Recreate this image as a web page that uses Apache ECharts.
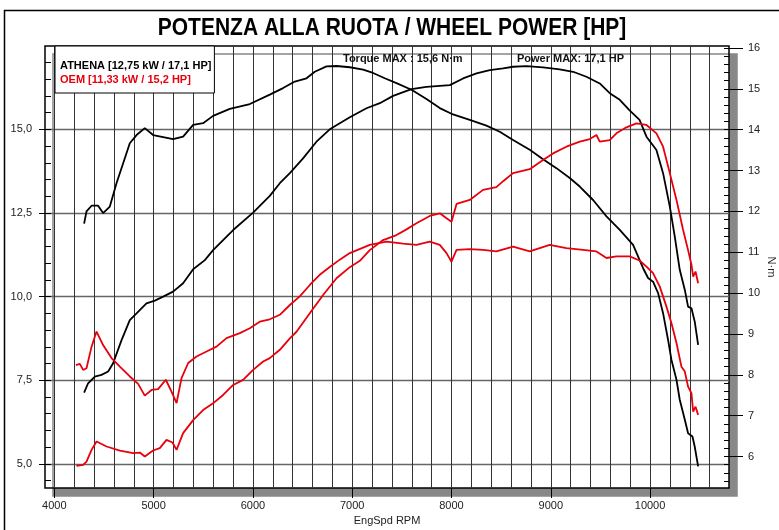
<!DOCTYPE html>
<html>
<head>
<meta charset="utf-8">
<title>Potenza alla ruota</title>
<script src="https://cdn.jsdelivr.net/npm/echarts@6/dist/echarts.min.js"></script>
<style>
html, body { margin: 0; padding: 0; background: #fff; }
#chart { width: 779px; height: 530px; }
</style>
</head>
<body>
<div id="chart"></div>
<script>
// tick labels
const rpmTicks = [4000, 5000, 6000, 7000, 8000, 9000, 10000]
const hpTicks = [5, 7.5, 10, 12.5, 15]
const nmTicks = [6, 7, 8, 9, 10, 11, 12, 13, 14, 15, 16]

// ATHENA - power [HP] (left axis)
const athPowerRpm = [4300, 4340, 4408, 4475, 4542, 4592, 4677, 4760, 4828, 4928, 5012, 5096, 5196, 5297, 5398, 5516, 5599, 5801, 6002, 6170, 6271, 6372, 6505, 6640, 6774, 6976, 7144, 7278, 7412, 7597, 7748, 7983, 8117, 8252, 8386, 8520, 8620, 8755, 8922, 9090, 9225, 9359, 9493, 9594, 9695, 9789, 9894, 9964, 10064, 10131, 10199, 10249, 10299, 10350, 10383, 10417, 10450, 10484]
const athPowerHp = [7.13, 7.41, 7.61, 7.66, 7.76, 8.01, 8.70, 9.30, 9.50, 9.80, 9.88, 10.0, 10.15, 10.40, 10.82, 11.09, 11.39, 11.99, 12.51, 13.01, 13.39, 13.69, 14.13, 14.63, 15.0, 15.36, 15.63, 15.78, 16.0, 16.20, 16.27, 16.32, 16.52, 16.67, 16.77, 16.82, 16.87, 16.89, 16.85, 16.79, 16.72, 16.57, 16.37, 16.08, 15.88, 15.58, 15.28, 14.78, 14.38, 13.69, 12.69, 11.79, 10.80, 10.20, 9.70, 9.65, 9.25, 8.56]

// ATHENA - torque [N·m] (right axis)
const athTorqueRpm = [4300, 4324, 4375, 4441, 4491, 4559, 4626, 4710, 4760, 4828, 4911, 4995, 5096, 5196, 5297, 5398, 5498, 5599, 5767, 5969, 6170, 6304, 6422, 6540, 6623, 6741, 6842, 6976, 7110, 7210, 7328, 7446, 7597, 7748, 7882, 8000, 8184, 8352, 8486, 8620, 8788, 8922, 9057, 9191, 9292, 9426, 9561, 9695, 9829, 9930, 9980, 10030, 10081, 10131, 10181, 10215, 10266, 10299, 10350, 10383, 10427, 10450, 10484]
const athTorqueNm = [11.70, 12.0, 12.14, 12.14, 11.96, 12.12, 12.69, 13.30, 13.67, 13.87, 14.04, 13.87, 13.82, 13.77, 13.83, 14.12, 14.16, 14.34, 14.51, 14.63, 14.86, 15.02, 15.18, 15.26, 15.42, 15.55, 15.56, 15.53, 15.47, 15.39, 15.26, 15.14, 14.98, 14.75, 14.53, 14.39, 14.24, 14.10, 13.95, 13.75, 13.51, 13.28, 13.06, 12.82, 12.61, 12.28, 11.88, 11.55, 11.18, 10.61, 10.37, 10.28, 10.0, 9.51, 8.86, 8.37, 7.88, 7.39, 6.90, 6.57, 6.49, 6.24, 5.76]

// OEM - power [HP] (left axis)
const oemPowerRpm = [4223, 4290, 4324, 4375, 4425, 4526, 4660, 4794, 4861, 4911, 4995, 5062, 5130, 5190, 5231, 5297, 5398, 5498, 5599, 5700, 5801, 5901, 6002, 6103, 6170, 6271, 6372, 6439, 6573, 6707, 6842, 6976, 7077, 7177, 7311, 7446, 7547, 7647, 7781, 7882, 7950, 8000, 8051, 8184, 8318, 8452, 8520, 8620, 8788, 8922, 9023, 9157, 9292, 9393, 9460, 9493, 9594, 9661, 9762, 9862, 9964, 10064, 10131, 10199, 10266, 10333, 10383, 10417, 10434, 10458, 10484]
const oemPowerHp = [4.94, 4.97, 5.07, 5.42, 5.67, 5.52, 5.40, 5.32, 5.34, 5.22, 5.40, 5.47, 5.72, 5.64, 5.42, 5.92, 6.31, 6.61, 6.81, 7.06, 7.36, 7.51, 7.81, 8.06, 8.16, 8.41, 8.75, 8.95, 9.50, 10.05, 10.55, 10.88, 11.07, 11.39, 11.69, 11.84, 12.01, 12.19, 12.41, 12.49, 12.34, 12.24, 12.77, 12.89, 13.19, 13.27, 13.45, 13.69, 13.81, 14.08, 14.28, 14.48, 14.63, 14.71, 14.83, 14.63, 14.68, 14.88, 15.06, 15.18, 15.13, 14.88, 14.48, 13.69, 12.89, 11.99, 11.39, 10.95, 10.60, 10.75, 10.40]

// OEM - torque [N·m] (right axis)
const oemTorqueRpm = [4217, 4257, 4290, 4324, 4375, 4425, 4491, 4576, 4660, 4760, 4844, 4911, 4979, 5045, 5123, 5180, 5231, 5281, 5348, 5432, 5533, 5633, 5734, 5868, 5969, 6069, 6170, 6271, 6372, 6472, 6573, 6673, 6774, 6875, 6976, 7177, 7345, 7513, 7647, 7781, 7882, 7950, 8000, 8051, 8184, 8318, 8452, 8620, 8788, 8989, 9157, 9325, 9460, 9561, 9661, 9795, 9894, 9964, 10030, 10098, 10165, 10215, 10266, 10316, 10350, 10383, 10417, 10434, 10458, 10484]
const oemTorqueNm = [8.24, 8.27, 8.12, 8.16, 8.69, 9.06, 8.73, 8.41, 8.20, 7.96, 7.78, 7.49, 7.63, 7.65, 7.88, 7.59, 7.31, 7.92, 8.29, 8.45, 8.57, 8.69, 8.90, 9.02, 9.14, 9.30, 9.36, 9.47, 9.71, 9.92, 10.20, 10.45, 10.64, 10.82, 10.98, 11.18, 11.26, 11.21, 11.18, 11.26, 11.18, 10.98, 10.77, 11.06, 11.08, 11.06, 11.02, 11.14, 11.02, 11.18, 11.10, 11.06, 11.02, 10.86, 10.90, 10.90, 10.80, 10.65, 10.49, 10.16, 9.67, 9.27, 8.78, 8.20, 8.08, 7.71, 7.55, 7.10, 7.22, 7.02]

const athName = 'ATHENA [12,75 kW / 17,1 HP]'
const oemName = 'OEM [11,33 kW / 15,2 HP]'
const red = '#e8000c'

// grid lines / minor ticks
const rpmGrid = []
for (let v = 4000; v <= 10600; v += 200) rpmGrid.push(v)
const hpMinor = []
for (let i = 9; i <= 34; i++) hpMinor.push(i * 0.5)
const nmMinor = []
for (let i = 27; i <= 80; i++) nmMinor.push(Math.round(i * 20) / 100)

const pairs = (xs, ys) => xs.map((x, i) => [x, ys[i]])

const chart = echarts.init(document.getElementById('chart'))

const xRange = { min: 3906, max: 10795 }
const hpRange = { min: 4.28, max: 17.49 }
const nmRange = { min: 5.23, max: 16.05 }
const labelFont = { fontFamily: 'Liberation Sans', fontSize: 11, color: '#222' }

const option = {
    backgroundColor: '#fff',
    animation: false,
    graphic: [
        {
            type: 'rect',
            z: 100,
            shape: { x: 4.5, y: 10.5, width: 820, height: 600 },
            style: { fill: 'none', stroke: '#000', lineWidth: 1.5 }
        },
        {
            type: 'text',
            z: 100,
            x: 392,
            y: 28,
            scaleX: 0.875,
            style: {
                text: 'POTENZA ALLA RUOTA / WHEEL POWER [HP]',
                font: 'bold 24px "Liberation Sans"',
                fill: '#000',
                align: 'center',
                verticalAlign: 'middle'
            }
        },
        {
            type: 'text',
            z: 100,
            x: 343,
            y: 59,
            style: {
                text: 'Torque MAX : 15,6 N·m',
                font: 'bold 11px "Liberation Sans"',
                fill: '#111',
                verticalAlign: 'middle'
            }
        },
        {
            type: 'text',
            z: 100,
            x: 517,
            y: 59,
            style: {
                text: 'Power MAX: 17,1 HP',
                font: 'bold 11px "Liberation Sans"',
                fill: '#111',
                verticalAlign: 'middle'
            }
        }
    ],
    legend: {
        left: 55,
        top: 46,
        orient: 'vertical',
        icon: 'none',
        itemWidth: 0,
        itemHeight: 10,
        itemGap: 3,
        selectedMode: false,
        backgroundColor: '#fff',
        borderColor: '#000',
        borderWidth: 1,
        padding: [14, 3, 8, 0],
        textStyle: { fontFamily: 'Liberation Sans', fontSize: 11, fontWeight: 'bold' },
        data: [
            { name: athName, textStyle: { color: '#000' } },
            { name: oemName, textStyle: { color: red } }
        ]
    },
    grid: {
        left: 45,
        right: 50,
        top: 46,
        bottom: 42,
        outerBoundsMode: 'none',
        show: true,
        backgroundColor: '#fff',
        borderColor: '#000',
        borderWidth: 1.5,
        shadowColor: '#888',
        shadowBlur: 0,
        shadowOffsetX: 8,
        shadowOffsetY: 8
    },
    xAxis: [
        {
            type: 'value',
            position: 'bottom',
            ...xRange,
            name: 'EngSpd RPM',
            nameLocation: 'middle',
            nameGap: 26,
            nameTextStyle: labelFont,
            axisLine: { show: false },
            axisTick: { customValues: rpmTicks, length: 10, lineStyle: { color: '#000', width: 1 } },
            axisLabel: { customValues: rpmTicks, margin: 12, ...labelFont, formatter: v => String(v) },
            splitLine: { show: false }
        },
        {
            type: 'value',
            position: 'bottom',
            ...xRange,
            axisLine: { show: false },
            axisTick: { show: false, customValues: rpmGrid },
            axisLabel: { show: false },
            splitLine: { show: true, lineStyle: { color: '#333', width: 1 } }
        }
    ],
    yAxis: [
        {
            type: 'value',
            position: 'left',
            ...hpRange,
            axisLine: { show: false },
            axisTick: { customValues: hpTicks, length: 6, lineStyle: { color: '#000' } },
            axisLabel: {
                customValues: hpTicks,
                margin: 13,
                ...labelFont,
                formatter: v => v.toFixed(1).replace('.', ',')
            },
            splitLine: { show: true, lineStyle: { color: '#666', width: 1.3 } }
        },
        {
            type: 'value',
            position: 'right',
            ...nmRange,
            name: 'N·m',
            nameLocation: 'middle',
            nameRotate: -90,
            nameGap: 37,
            nameMoveOverlap: false,
            nameTextStyle: labelFont,
            axisLine: { show: false },
            axisTick: { customValues: nmTicks, length: 14, lineStyle: { color: '#000' } },
            axisLabel: { customValues: nmTicks, margin: 19, ...labelFont },
            splitLine: { show: false }
        },
        {
            type: 'value',
            position: 'left',
            ...hpRange,
            axisLine: { show: false },
            axisTick: { customValues: hpMinor, inside: true, length: 6, lineStyle: { color: '#000' } },
            axisLabel: { show: false },
            splitLine: { show: false }
        },
        {
            type: 'value',
            position: 'right',
            ...nmRange,
            axisLine: { show: false },
            axisTick: { customValues: nmMinor, inside: true, length: 5, lineStyle: { color: '#000' } },
            axisLabel: { show: false },
            splitLine: { show: false }
        }
    ],
    series: [
        {
            name: athName, type: 'line', yAxisIndex: 1, showSymbol: false,
            lineStyle: { color: '#000', width: 1.8 }, itemStyle: { color: '#000' },
            data: pairs(athTorqueRpm, athTorqueNm)
        },
        {
            name: athName, type: 'line', yAxisIndex: 0, showSymbol: false,
            lineStyle: { color: '#000', width: 1.8 }, itemStyle: { color: '#000' },
            data: pairs(athPowerRpm, athPowerHp)
        },
        {
            name: oemName, type: 'line', yAxisIndex: 1, showSymbol: false,
            lineStyle: { color: red, width: 1.8 }, itemStyle: { color: red },
            data: pairs(oemTorqueRpm, oemTorqueNm)
        },
        {
            name: oemName, type: 'line', yAxisIndex: 0, showSymbol: false,
            lineStyle: { color: red, width: 1.8 }, itemStyle: { color: red },
            data: pairs(oemPowerRpm, oemPowerHp)
        }
    ]
}
chart.setOption(option)
</script>
</body>
</html>
